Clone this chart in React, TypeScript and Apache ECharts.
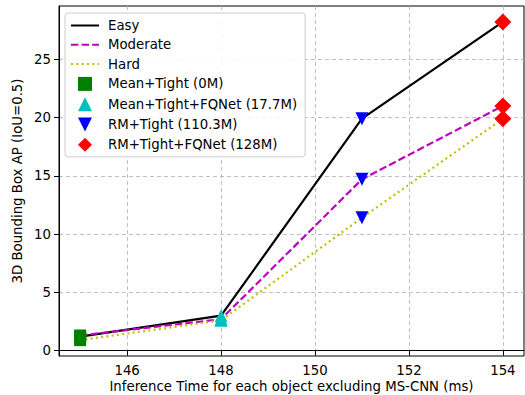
import React, { useEffect, useRef } from "react";
import * as echarts from "echarts";

const xValues = [145, 148, 151, 154];
const easy = [1.2, 3.0, 19.9, 28.2];
const moderate = [1.3, 2.7, 14.7, 21.0];
const hard = [0.9, 2.6, 11.4, 19.9];
const xTicks = [146, 148, 150, 152, 154];
const yTicks = [0, 5, 10, 15, 20, 25];
const difficulties = ["Easy", "Moderate", "Hard"];
const methods = [
  "Mean+Tight (0M)",
  "Mean+Tight+FQNet (17.7M)",
  "RM+Tight (110.3M)",
  "RM+Tight+FQNet (128M)",
];

const FONT = "DejaVu Sans";
const FS = 13.3;

export default function App() {
  const ref = useRef<HTMLDivElement>(null);
  useEffect(() => {
    if (!ref.current) return;
    const chart = echarts.init(ref.current, undefined, { renderer: "svg" });
    const lineColors = ["#000000", "#bf00bf", "#bfbf00"];
    const lineDash: any[] = ["solid", [7.4, 3.2], [2, 3.3]];
    const lineData = [easy, moderate, hard];
    const markerColors = ["#008000", "#00bfbf", "#0000ff", "#ff0000"];
    const markerSymbols = [
      "path://M0,0L10,0L10,10L0,10Z",
      "path://M5,0L10,10L0,10Z",
      "path://M0,0L10,0L5,10Z",
      "path://M5,0L10,5L5,10L0,5Z",
    ];
    const markerSizes: any[] = [[12, 12], [13, 13], [13, 13], [17, 17]];

    const series: any[] = [];
    difficulties.forEach((name, k) => {
      series.push({
        name,
        type: "line",
        data: xValues.map((x, i) => [x, lineData[k][i]]),
        symbol: "none",
        lineStyle: { color: lineColors[k], width: 2.2, type: lineDash[k] },
        itemStyle: { color: lineColors[k] },
        z: 2,
      });
    });
    methods.forEach((name, i) => {
      series.push({
        name,
        type: "scatter",
        data: lineData.map((arr) => [xValues[i], arr[i]]),
        symbol: markerSymbols[i],
        symbolSize: markerSizes[i],
        symbolKeepAspect: true,
        itemStyle: { color: markerColors[i], opacity: 1 },
        z: 3,
      });
    });

    chart.setOption({
      animation: false,
      backgroundColor: "#ffffff",
      textStyle: { fontFamily: FONT },
      grid: {
        left: 59,
        right: 1,
        top: 6,
        bottom: 39,
        outerBoundsMode: "none",
        containLabel: false,
        show: true,
        borderColor: "#000",
        borderWidth: 1,
        backgroundColor: "transparent",
      },
      legend: {
        orient: "vertical",
        left: 65,
        top: 13,
        padding: [6, 8, 5, 5],
        itemGap: 6.3,
        itemWidth: 28,
        itemHeight: 14,
        backgroundColor: "rgba(255,255,255,0.85)",
        borderColor: "#cccccc",
        borderWidth: 1,
        borderRadius: 3,
        textStyle: { fontFamily: FONT, fontSize: FS, color: "#000", padding: [0, 0, 0, 4] },
        data: [
          ...difficulties.map((n) => ({ name: n, itemStyle: { opacity: 0 } })),
          ...methods.map((n) => ({ name: n })),
        ],
      },
      xAxis: {
        type: "value",
        min: 144.55,
        max: 154.45,
        name: "Inference Time for each object excluding MS-CNN (ms)",
        nameLocation: "middle",
        nameGap: 23,
        nameMoveOverlap: false,
        nameTextStyle: { fontFamily: FONT, fontSize: FS, color: "#000", lineHeight: 14 },
        axisLine: { show: true, lineStyle: { color: "#000", width: 1 } },
        axisTick: { show: true, length: 5, customValues: xTicks, lineStyle: { color: "#000" } },
        axisLabel: {
          customValues: xTicks,
          fontFamily: FONT,
          fontSize: FS,
          color: "#000",
          margin: 8,
        },
        splitLine: { show: true, lineStyle: { color: "#b0b0b0", type: [4, 3], width: 0.8 } },
      },
      yAxis: {
        type: "value",
        min: -0.46,
        max: 29.57,
        name: "3D Bounding Box AP (IoU=0.5)",
        nameLocation: "middle",
        nameGap: 35,
        nameMoveOverlap: false,
        nameTextStyle: { fontFamily: FONT, fontSize: FS, color: "#000" },
        axisLine: { show: true, lineStyle: { color: "#000", width: 1 } },
        axisTick: { show: true, length: 5, customValues: yTicks, lineStyle: { color: "#000" } },
        axisLabel: {
          customValues: yTicks,
          fontFamily: FONT,
          fontSize: FS,
          color: "#000",
          margin: 8,
        },
        splitLine: { show: true, lineStyle: { color: "#b0b0b0", type: [4, 3], width: 0.8 } },
      },
      series,
    });
    return () => chart.dispose();
  }, []);
  return <div ref={ref} style={{ width: 525, height: 395, position: "absolute", left: 0, top: 0 }} />;
}
